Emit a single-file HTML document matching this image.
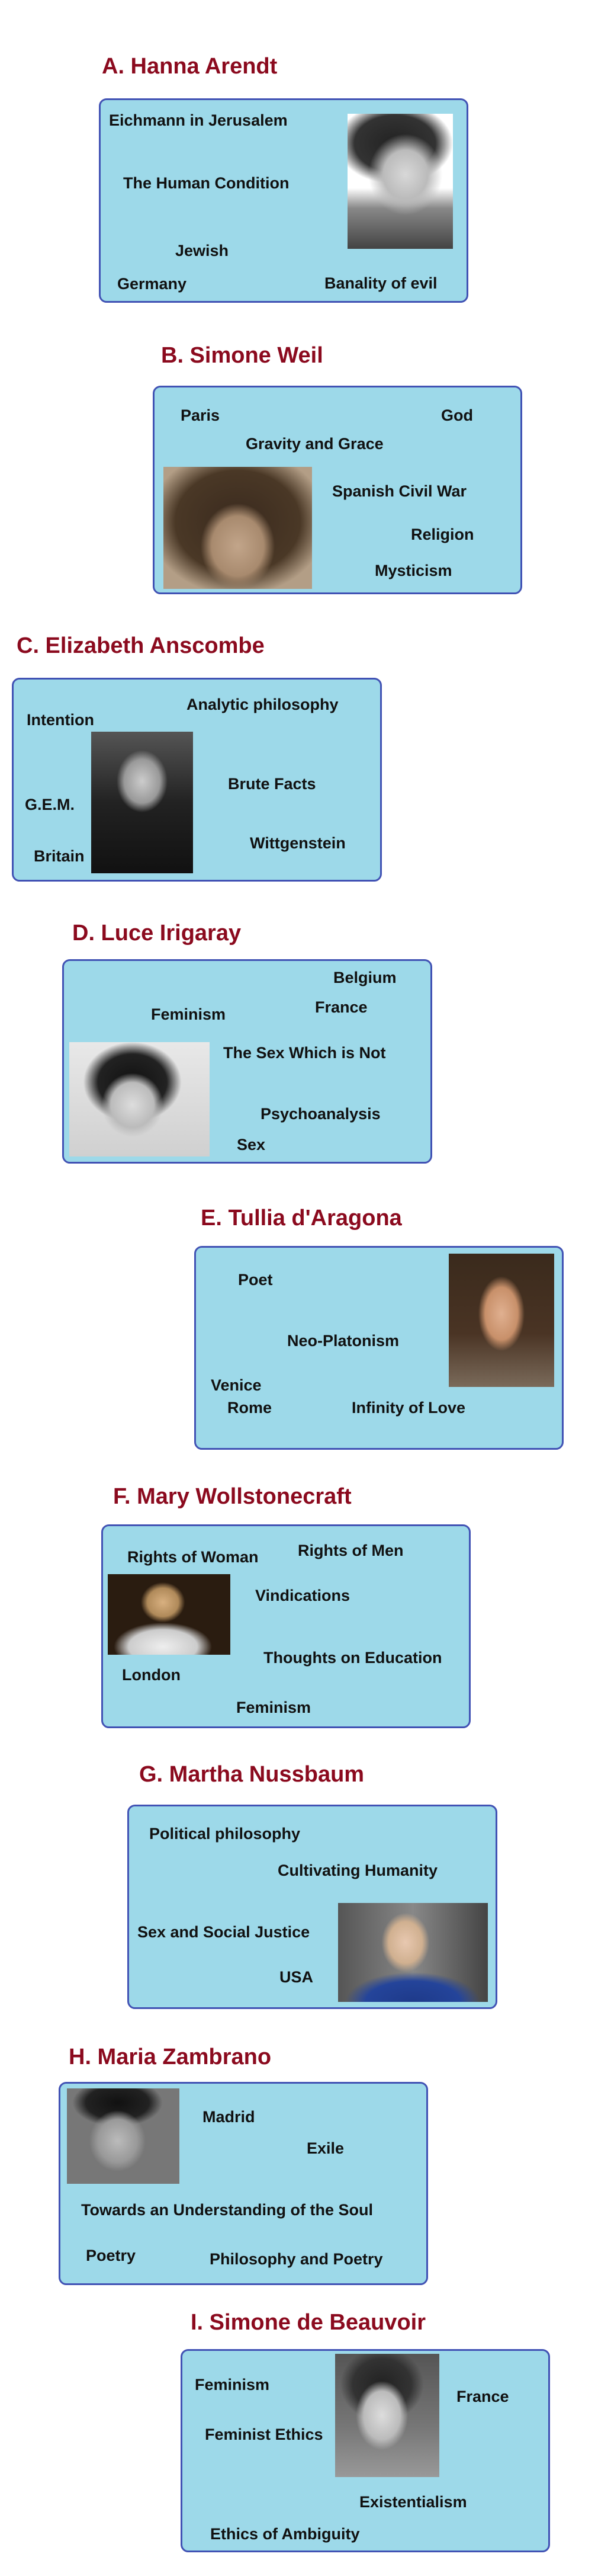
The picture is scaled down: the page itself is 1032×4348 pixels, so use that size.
<!DOCTYPE html>
<html><head><meta charset="utf-8"><style>
html,body{margin:0;padding:0;background:#fff;}
body{width:1032px;height:4348px;position:relative;overflow:hidden;font-family:"Liberation Sans",sans-serif;}
.t{position:absolute;font-size:38px;font-weight:bold;color:#8b0a1e;line-height:1;white-space:nowrap;}
.b{position:absolute;background:#9dd9e9;border:3px solid #4152b4;border-radius:13px;box-sizing:border-box;}
.l{position:absolute;font-size:27px;font-weight:bold;color:#111;line-height:1;white-space:nowrap;}
.p{position:absolute;}
</style></head><body>

<!-- A -->
<div class="t" style="left:172px;top:93px">A. Hanna Arendt</div>
<div class="b" style="left:167px;top:166px;width:624px;height:345px"></div>
<div class="p" style="left:587px;top:192px;width:178px;height:228px;background:radial-gradient(ellipse 35% 30% at 55% 45%,#d8d8d8 0,#bbb 60%,transparent 100%),radial-gradient(ellipse 55% 30% at 45% 22%,#222 0,#333 70%,transparent 100%),linear-gradient(#fff 0,#fff 55%,#888 70%,#444 100%)"></div>
<div class="l" style="left:184px;top:190px">Eichmann in Jerusalem</div>
<div class="l" style="left:208px;top:296px">The Human Condition</div>
<div class="l" style="left:296px;top:410px">Jewish</div>
<div class="l" style="left:198px;top:466px">Germany</div>
<div class="l" style="left:548px;top:465px">Banality of evil</div>

<!-- B -->
<div class="t" style="left:272px;top:581px">B. Simone Weil</div>
<div class="b" style="left:258px;top:651px;width:624px;height:352px"></div>
<div class="p" style="left:276px;top:788px;width:251px;height:206px;background:radial-gradient(ellipse 25% 35% at 50% 65%,#c2a58a 0,#a88a6e 70%,transparent 100%),radial-gradient(ellipse 60% 60% at 50% 45%,#3a2a1e 0,#4a3826 70%,transparent 100%),#b39e86"></div>
<div class="l" style="left:305px;top:688px">Paris</div>
<div class="l" style="left:745px;top:688px">God</div>
<div class="l" style="left:415px;top:736px">Gravity and Grace</div>
<div class="l" style="left:561px;top:816px">Spanish Civil War</div>
<div class="l" style="left:694px;top:889px">Religion</div>
<div class="l" style="left:633px;top:950px">Mysticism</div>

<!-- C -->
<div class="t" style="left:28px;top:1071px">C. Elizabeth Anscombe</div>
<div class="b" style="left:20px;top:1144px;width:625px;height:344px"></div>
<div class="p" style="left:154px;top:1235px;width:172px;height:239px;background:radial-gradient(ellipse 25% 22% at 50% 35%,#ccc 0,#999 70%,transparent 100%),linear-gradient(#555,#222 50%,#111)"></div>
<div class="l" style="left:315px;top:1176px">Analytic philosophy</div>
<div class="l" style="left:45px;top:1202px">Intention</div>
<div class="l" style="left:385px;top:1310px">Brute Facts</div>
<div class="l" style="left:42px;top:1345px">G.E.M.</div>
<div class="l" style="left:422px;top:1410px">Wittgenstein</div>
<div class="l" style="left:57px;top:1432px">Britain</div>

<!-- D -->
<div class="t" style="left:122px;top:1556px">D. Luce Irigaray</div>
<div class="b" style="left:105px;top:1619px;width:625px;height:345px"></div>
<div class="p" style="left:117px;top:1759px;width:237px;height:193px;background:radial-gradient(ellipse 22% 28% at 45% 55%,#ddd 0,#bbb 70%,transparent 100%),radial-gradient(ellipse 35% 35% at 45% 35%,#111 0,#222 70%,transparent 100%),linear-gradient(#e8e8e8,#d0d0d0)"></div>
<div class="l" style="left:563px;top:1637px">Belgium</div>
<div class="l" style="left:532px;top:1687px">France</div>
<div class="l" style="left:255px;top:1699px">Feminism</div>
<div class="l" style="left:377px;top:1764px">The Sex Which is Not</div>
<div class="l" style="left:440px;top:1867px">Psychoanalysis</div>
<div class="l" style="left:400px;top:1919px">Sex</div>

<!-- E -->
<div class="t" style="left:339px;top:2037px">E. Tullia d'Aragona</div>
<div class="b" style="left:328px;top:2103px;width:624px;height:344px"></div>
<div class="p" style="left:758px;top:2116px;width:178px;height:225px;background:radial-gradient(ellipse 22% 28% at 50% 45%,#e0b090 0,#c8906a 70%,transparent 100%),linear-gradient(#3a2a1c,#4a3424 60%,#7a6a5a)"></div>
<div class="l" style="left:402px;top:2147px">Poet</div>
<div class="l" style="left:485px;top:2250px">Neo-Platonism</div>
<div class="l" style="left:356px;top:2325px">Venice</div>
<div class="l" style="left:384px;top:2363px">Rome</div>
<div class="l" style="left:594px;top:2363px">Infinity of Love</div>

<!-- F -->
<div class="t" style="left:191px;top:2507px">F. Mary Wollstonecraft</div>
<div class="b" style="left:171px;top:2573px;width:624px;height:344px"></div>
<div class="p" style="left:182px;top:2657px;width:207px;height:136px;background:radial-gradient(ellipse 18% 25% at 45% 35%,#d8b080 0,#b08a5a 70%,transparent 100%),radial-gradient(ellipse 40% 30% at 45% 90%,#eee 0,#ccc 70%,transparent 100%),#2a1c10"></div>
<div class="l" style="left:215px;top:2615px">Rights of Woman</div>
<div class="l" style="left:503px;top:2604px">Rights of Men</div>
<div class="l" style="left:431px;top:2680px">Vindications</div>
<div class="l" style="left:445px;top:2785px">Thoughts on Education</div>
<div class="l" style="left:206px;top:2814px">London</div>
<div class="l" style="left:399px;top:2869px">Feminism</div>

<!-- G -->
<div class="t" style="left:235px;top:2976px">G. Martha Nussbaum</div>
<div class="b" style="left:215px;top:3046px;width:625px;height:345px"></div>
<div class="p" style="left:571px;top:3212px;width:253px;height:167px;background:radial-gradient(ellipse 16% 30% at 45% 40%,#e8c8b0 0,#d0b090 70%,transparent 100%),radial-gradient(ellipse 45% 30% at 50% 100%,#1e3a8a 0,#24449a 70%,transparent 100%),linear-gradient(90deg,#555,#888 50%,#444)"></div>
<div class="l" style="left:252px;top:3082px">Political philosophy</div>
<div class="l" style="left:469px;top:3144px">Cultivating Humanity</div>
<div class="l" style="left:232px;top:3248px">Sex and Social Justice</div>
<div class="l" style="left:472px;top:3324px">USA</div>

<!-- H -->
<div class="t" style="left:116px;top:3453px">H. Maria Zambrano</div>
<div class="b" style="left:99px;top:3514px;width:624px;height:343px"></div>
<div class="p" style="left:113px;top:3525px;width:190px;height:161px;background:radial-gradient(ellipse 25% 32% at 45% 55%,#bbb 0,#999 70%,transparent 100%),radial-gradient(ellipse 40% 25% at 45% 15%,#111 0,#222 70%,transparent 100%),#777"></div>
<div class="l" style="left:342px;top:3560px">Madrid</div>
<div class="l" style="left:518px;top:3613px">Exile</div>
<div class="l" style="left:137px;top:3717px">Towards an Understanding of the Soul</div>
<div class="l" style="left:145px;top:3794px">Poetry</div>
<div class="l" style="left:354px;top:3800px">Philosophy and Poetry</div>

<!-- I -->
<div class="t" style="left:322px;top:3901px">I. Simone de Beauvoir</div>
<div class="b" style="left:305px;top:3965px;width:624px;height:343px"></div>
<div class="p" style="left:566px;top:3973px;width:176px;height:208px;background:radial-gradient(ellipse 25% 28% at 45% 50%,#ddd 0,#bbb 70%,transparent 100%),radial-gradient(ellipse 40% 30% at 45% 25%,#222 0,#333 70%,transparent 100%),linear-gradient(#555,#777 60%,#999)"></div>
<div class="l" style="left:329px;top:4012px">Feminism</div>
<div class="l" style="left:771px;top:4032px">France</div>
<div class="l" style="left:346px;top:4096px">Feminist Ethics</div>
<div class="l" style="left:607px;top:4210px">Existentialism</div>
<div class="l" style="left:355px;top:4264px">Ethics of Ambiguity</div>

</body></html>
